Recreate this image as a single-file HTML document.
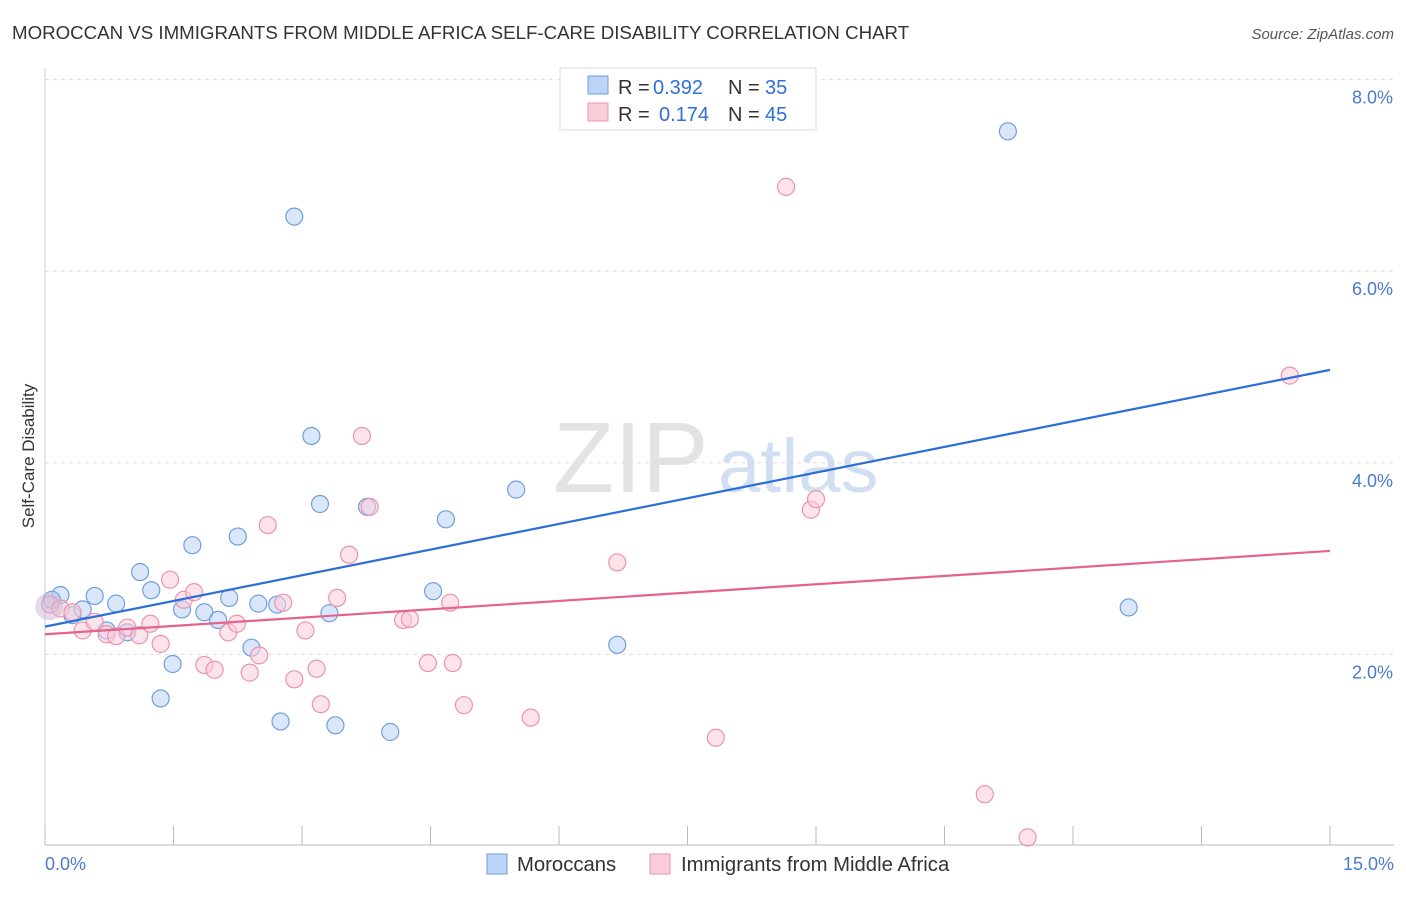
<!DOCTYPE html>
<html><head><meta charset="utf-8"><style>
body{margin:0;background:#fff;font-family:"Liberation Sans",sans-serif}
svg text{font-family:"Liberation Sans",sans-serif}
</style></head><body>
<svg id="chart" width="1406" height="892" xmlns="http://www.w3.org/2000/svg">
<text x="12" y="39" font-size="18.7" fill="#333">MOROCCAN VS IMMIGRANTS FROM MIDDLE AFRICA SELF-CARE DISABILITY CORRELATION CHART</text>
<text x="1394" y="39" font-size="15" fill="#555" text-anchor="end" font-style="italic">Source: ZipAtlas.com</text>
<g id="grid"></g>
<text x="553" y="492" font-size="100" fill="#ddd" font-family="Liberation Serif" opacity="0.8">ZIP</text>
<text x="718" y="492" font-size="76" fill="#c8d8ef" opacity="0.8">atlas</text>
<g id="pts"></g>
<g id="lines"></g>
<text transform="translate(34,456) rotate(-90)" font-size="17" fill="#333" text-anchor="middle">Self-Care Disability</text>
<text x="45" y="870" font-size="18" fill="#4a7bd0">0.0%</text>
<text x="1394" y="870" font-size="18" fill="#4a7bd0" text-anchor="end">15.0%</text>
<g font-size="20">
<rect x="560" y="68" width="256" height="62" fill="#fff" stroke="#ddd"/>
<rect x="588" y="76" width="20" height="18" fill="#bcd4f5" stroke="#6f9ee0"/>
<text x="618" y="94" fill="#333">R =</text>
<text x="653" y="94" fill="#2f6fd6">0.392</text>
<text x="728" y="94" fill="#333">N =</text>
<text x="765" y="94" fill="#2f6fd6">35</text>
<rect x="588" y="103" width="20" height="18" fill="#fbccd9" stroke="#ec93ad"/>
<text x="618" y="121" fill="#333">R =</text>
<text x="659" y="121" fill="#2f6fd6">0.174</text>
<text x="728" y="121" fill="#333">N =</text>
<text x="765" y="121" fill="#2f6fd6">45</text>
</g>
<g>
<rect x="487" y="854" width="20" height="20" fill="#bcd4f5" stroke="#6f9ee0"/>
<text x="517" y="871" font-size="20.3" fill="#333">Moroccans</text>
<rect x="650" y="854" width="20" height="20" fill="#fbccd9" stroke="#ec93ad"/>
<text x="681" y="871" font-size="20.3" fill="#333">Immigrants from Middle Africa</text>
</g>
</svg>
<script>
const yTicks=[2,4,6,8];
const yTickLabels=["2.0%","4.0%","6.0%","8.0%"];
const xTicks=[0,1.5,3,4.5,6,7.5,9,10.5,12,13.5,15];
const blueX=[0.18,0.08,0.32,0.44,0.58,0.83,0.72,0.96,1.11,1.24,1.49,1.35,1.60,1.72,1.86,2.02,2.15,2.25,2.41,2.49,2.71,2.75,2.91,3.11,3.21,3.32,3.39,3.76,4.03,4.53,4.68,5.50,6.68,11.24,12.65];
const blueY=[2.62,2.57,2.41,2.47,2.61,2.53,2.25,2.23,2.86,2.67,1.90,1.54,2.47,3.14,2.44,2.36,2.59,3.23,2.07,2.53,2.52,1.30,6.57,4.28,3.57,2.43,1.26,3.54,1.19,2.66,3.41,3.72,2.10,7.46,2.49];
const pinkX=[0.06,0.18,0.32,0.44,0.58,0.72,0.83,0.96,1.10,1.23,1.35,1.46,1.62,1.74,1.86,1.98,2.14,2.24,2.39,2.50,2.60,2.78,2.91,3.04,3.17,3.22,3.41,3.55,3.70,3.79,4.18,4.26,4.47,4.73,4.76,4.89,5.67,6.68,7.83,8.65,8.94,9.00,10.97,11.47,14.53];
const pinkY=[2.52,2.48,2.44,2.25,2.34,2.21,2.19,2.28,2.20,2.32,2.11,2.78,2.57,2.65,1.89,1.84,2.23,2.32,1.81,1.99,3.35,2.54,1.74,2.25,1.85,1.48,2.59,3.04,4.28,3.54,2.36,2.37,1.91,2.54,1.91,1.47,1.34,2.96,1.13,6.88,3.51,3.62,0.54,0.09,4.91];
const blueTrend=[2.29,4.97];
const pinkTrend=[2.21,3.08];
const NS="http://www.w3.org/2000/svg";
const sx=v=>45+v*(1285/15);
const sy=v=>846-v*95.8;
function mk(t,a,p){const e=document.createElementNS(NS,t);for(const k in a)e.setAttribute(k,a[k]);p.appendChild(e);return e;}
const grid=document.getElementById('grid');
yTicks.forEach((t,i)=>{
 const l=mk('line',{x1:45,x2:1394,y1:sy(t),y2:sy(t),stroke:'#ddd','stroke-dasharray':'4,4'},grid);
 
 
 const tx=mk('text',{x:1393,y:sy(t)+24,'font-size':18,fill:'#4a7bd0','text-anchor':'end'},grid);
 tx.textContent=yTickLabels[i];
 
 
});
const ax=mk('line',{x1:45,x2:45,y1:68,y2:845,stroke:'#ccc'},grid);


const bx=mk('line',{x1:45,x2:1394,y1:845,y2:845,stroke:'#bbb'},grid);


xTicks.forEach(t=>{
 const l=mk('line',{x1:sx(t),x2:sx(t),y1:826,y2:845,stroke:'#bbb'},grid);
 
 
});
const pts=document.getElementById('pts');
function dots(X,Y,fill,stroke,name){
 X.forEach((x,i)=>{
  const c=mk('circle',{cx:sx(x),cy:sy(Y[i]),r:8.5,fill:fill,'fill-opacity':0.55,stroke:stroke,'stroke-width':1.2},pts);
  
  
 });
}
dots(blueX,blueY,'#bcd4f5','#6f9ee0','moroccan-point');
dots(pinkX,pinkY,'#fbccd9','#ec93ad','immigrant-point');
const big=mk('circle',{cx:sx(0.05),cy:sy(2.5),r:14,fill:'#c9b6d6','fill-opacity':0.5,stroke:'none'},pts);


const lines=document.getElementById('lines');
const bl=mk('line',{x1:sx(0),x2:sx(15),y1:sy(blueTrend[0]),y2:sy(blueTrend[1]),stroke:'#2b6fd6','stroke-width':2.2},lines);


const pl=mk('line',{x1:sx(0),x2:sx(15),y1:sy(pinkTrend[0]),y2:sy(pinkTrend[1]),stroke:'#e5628c','stroke-width':2.2},lines);


</script>
</body></html>
